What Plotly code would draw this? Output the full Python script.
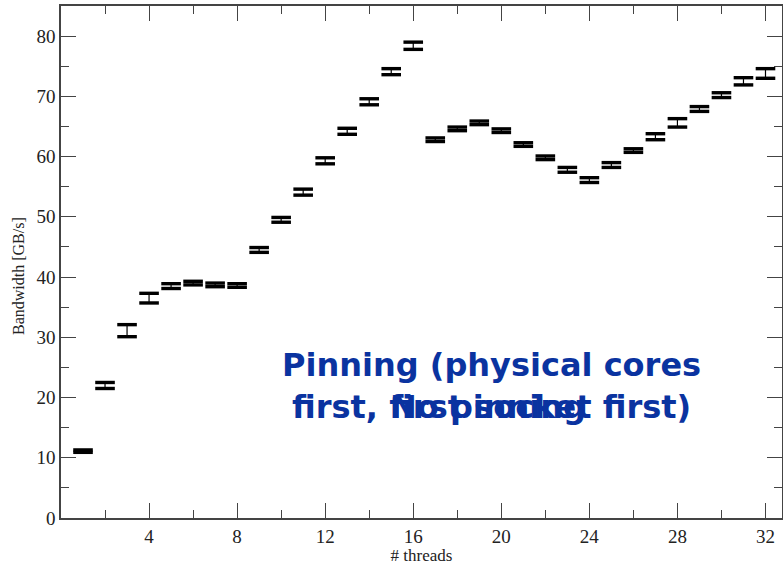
import plotly.graph_objects as go

threads = list(range(1, 33))
bandwidth = [11.1, 22.0, 31.1, 36.5, 38.5, 39.0, 38.7, 38.6,
             44.5, 49.5, 54.1, 59.3, 64.2, 69.1, 74.1, 78.4,
             62.8, 64.6, 65.6, 64.3, 62.0, 59.8, 57.8, 56.1,
             58.6, 61.0, 63.3, 65.6, 67.9, 70.2, 72.5, 73.8]
error = [0.2, 0.5, 1.0, 0.8, 0.4, 0.3, 0.3, 0.3,
         0.4, 0.4, 0.5, 0.5, 0.5, 0.5, 0.5, 0.6,
         0.3, 0.3, 0.3, 0.3, 0.3, 0.3, 0.4, 0.4,
         0.4, 0.3, 0.5, 0.7, 0.4, 0.4, 0.6, 0.8]

x_ticks = [4, 8, 12, 16, 20, 24, 28, 32]
y_ticks = [0, 10, 20, 30, 40, 50, 60, 70, 80]

label1 = "Pinning (physical cores<br>first, first socket first)"
label2 = "No pinning"
y_title = "Bandwidth [GB/s]"
x_title = "# threads"

upper = [b + e for b, e in zip(bandwidth, error)]
lower = [b - e for b, e in zip(bandwidth, error)]

fig = go.Figure()
# stems
fig.add_trace(go.Scatter(
    x=threads, y=bandwidth, mode="markers",
    marker=dict(size=1, color="black", opacity=0),
    error_y=dict(type="data", array=error, visible=True, color="black", thickness=1.2, width=0),
    showlegend=False, hoverinfo="skip"))
# caps
fig.add_trace(go.Scatter(
    x=threads + threads, y=upper + lower, mode="markers",
    marker=dict(symbol="line-ew-open", size=14, color="black", line=dict(color="black", width=3.4)),
    showlegend=False))

axis_font = dict(family="Liberation Serif, Times New Roman, serif", size=19, color="#222")
fig.update_xaxes(
    range=[0, 32.75], tickvals=x_ticks, ticks="inside", ticklen=15, tickwidth=1.3,
    tickcolor="#444", showline=True, linecolor="#444", linewidth=1.5, mirror="allticks",
    showgrid=False, zeroline=False, tickfont=axis_font, automargin=False,
    minor=dict(ticks="inside", ticklen=8, dtick=2, tick0=0, tickcolor="#444", tickwidth=1.3),
    title=dict(text=x_title, font=dict(family="Liberation Serif, serif", size=17, color="#222"), standoff=0))
fig.update_yaxes(
    range=[0, 85], tickvals=y_ticks, ticks="inside", ticklen=15, tickwidth=1.3,
    tickcolor="#444", showline=True, linecolor="#444", linewidth=1.5, mirror="allticks",
    showgrid=False, zeroline=False, tickfont=axis_font, automargin=False,
    minor=dict(ticks="inside", ticklen=8, dtick=5, tick0=0, tickcolor="#444", tickwidth=1.3))

blue_font = dict(family="DejaVu Sans, sans-serif", size=32, color="#0a33a0")
fig.add_annotation(x=492, y=565 - 386, xref="paper", yref="paper", text="<b>" + label1 + "</b>",
                   showarrow=False, font=blue_font, align="center", xanchor="center", yanchor="middle")
fig.add_annotation(x=488, y=565 - 407, xref="paper", yref="paper", text="<b>" + label2 + "</b>",
                   showarrow=False, font=blue_font, align="center", xanchor="center", yanchor="middle")
fig.add_annotation(x=18, y=565 - 276, xref="paper", yref="paper", text=y_title, textangle=-90,
                   showarrow=False, font=dict(family="Liberation Serif, serif", size=16, color="#222"),
                   xanchor="center", yanchor="middle")

fig.update_layout(
    width=783, height=565,
    margin=dict(l=61, r=1, t=6, b=47),
    plot_bgcolor="white", paper_bgcolor="white",
)

# convert annotation pixel positions to paper coords
pw, ph = 783 - 61 - 1, 565 - 6 - 47
for a in fig.layout.annotations:
    a.x = (a.x - 61) / pw
    a.y = (a.y - 47) / ph

fig.write_html("out.html", config={"displayModeBar": False},
               post_script="document.body.style.margin='0px';document.body.style.overflow='hidden';")
